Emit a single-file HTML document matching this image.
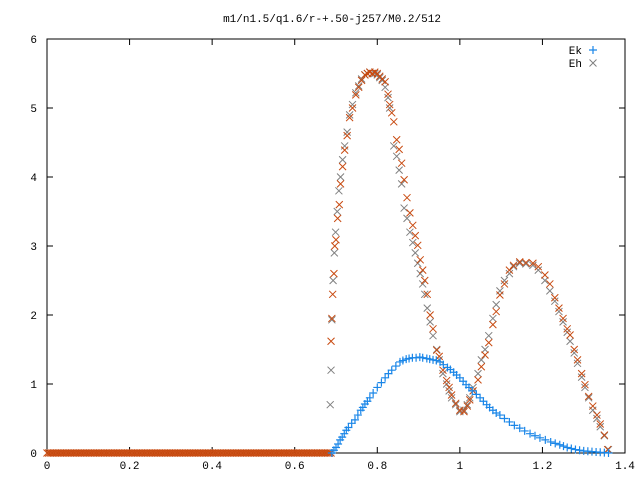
<!DOCTYPE html>
<html><head><meta charset="utf-8"><style>
html,body{margin:0;padding:0;background:#fff;width:640px;height:480px;overflow:hidden}
svg text{font-family:"Liberation Mono","DejaVu Sans Mono",monospace;font-size:11px;fill:#000}
</style></head><body>
<svg id="chart" width="640" height="480" xmlns="http://www.w3.org/2000/svg">
<rect width="640" height="480" fill="#fff"/>
<text x="332" y="22" text-anchor="middle">m1/n1.5/q1.6/r-+.50-j257/M0.2/512</text>
<g id="axes"></g><g id="marks"></g>
<g>
<text x="582" y="54" text-anchor="end">Ek</text>
<text x="582" y="67" text-anchor="end">Eh</text>
</g>
</svg>
<script>
const xTicks=[0,0.2,0.4,0.6,0.8,1,1.2,1.4];
const xTickLabels=["0","0.2","0.4","0.6","0.8","1","1.2","1.4"];
const yTicks=[0,1,2,3,4,5,6];
const yTickLabels=["0","1","2","3","4","5","6"];
const ekX=[0.69,0.695,0.70,0.705,0.71,0.715,0.72,0.725,0.73,0.738,0.746,0.753,0.76,0.765,0.77,0.776,0.782,0.79,0.80,0.81,0.819,0.827,0.835,0.845,0.855,0.862,0.87,0.877,0.885,0.894,0.903,0.91,0.92,0.927,0.935,0.943,0.952,0.96,0.97,0.977,0.985,0.992,1.0,1.008,1.015,1.022,1.03,1.04,1.049,1.057,1.065,1.072,1.08,1.088,1.097,1.108,1.12,1.132,1.145,1.157,1.17,1.182,1.194,1.207,1.22,1.231,1.242,1.251,1.26,1.27,1.28,1.29,1.30,1.31,1.32,1.33,1.34,1.35,1.36];
const ekY=[0.0,0.04,0.08,0.13,0.19,0.23,0.28,0.33,0.37,0.43,0.48,0.55,0.62,0.66,0.71,0.75,0.8,0.87,0.95,1.02,1.09,1.15,1.2,1.26,1.32,1.34,1.36,1.37,1.38,1.38,1.39,1.38,1.37,1.36,1.35,1.34,1.32,1.28,1.24,1.21,1.17,1.13,1.09,1.04,0.99,0.95,0.9,0.85,0.8,0.75,0.7,0.66,0.62,0.58,0.55,0.5,0.45,0.4,0.36,0.32,0.28,0.25,0.22,0.19,0.16,0.14,0.12,0.1,0.08,0.065,0.05,0.04,0.03,0.025,0.02,0.015,0.01,0.005,0.0];
const ehX=[0.686,0.688,0.690,0.693,0.696,0.699,0.703,0.707,0.711,0.716,0.721,0.727,0.733,0.740,0.748,0.755,0.762,0.770,0.776,0.782,0.788,0.794,0.800,0.806,0.812,0.819,0.826,0.830,0.840,0.847,0.853,0.859,0.865,0.872,0.879,0.886,0.892,0.898,0.904,0.910,0.915,0.921,0.928,0.935,0.944,0.950,0.959,0.968,0.974,0.980,0.990,1.000,1.010,1.018,1.024,1.032,1.044,1.052,1.061,1.070,1.080,1.088,1.097,1.108,1.120,1.130,1.145,1.160,1.177,1.190,1.206,1.218,1.230,1.240,1.250,1.260,1.267,1.277,1.285,1.295,1.303,1.312,1.322,1.332,1.340,1.350,1.360];
const ehY=[0.7,1.2,1.93,2.5,2.9,3.2,3.5,3.8,4.0,4.25,4.45,4.65,4.9,5.05,5.22,5.32,5.42,5.48,5.5,5.52,5.5,5.5,5.48,5.44,5.4,5.3,5.15,5.0,4.45,4.3,4.1,3.9,3.55,3.4,3.2,3.05,2.9,2.75,2.6,2.45,2.3,2.1,1.9,1.7,1.5,1.35,1.15,1.0,0.9,0.8,0.7,0.6,0.62,0.7,0.8,0.95,1.15,1.35,1.5,1.7,1.95,2.15,2.35,2.5,2.6,2.7,2.75,2.74,2.72,2.65,2.5,2.35,2.2,2.05,1.9,1.75,1.62,1.45,1.3,1.1,0.95,0.8,0.62,0.5,0.38,0.25,0.05];
const e3X=[0.688,0.690,0.692,0.695,0.697,0.700,0.704,0.708,0.711,0.716,0.721,0.727,0.733,0.740,0.748,0.755,0.762,0.770,0.776,0.782,0.788,0.794,0.800,0.806,0.812,0.819,0.826,0.830,0.835,0.840,0.847,0.853,0.859,0.865,0.872,0.879,0.886,0.892,0.898,0.904,0.910,0.915,0.921,0.928,0.935,0.944,0.950,0.959,0.968,0.974,0.980,0.990,1.000,1.010,1.018,1.024,1.032,1.044,1.052,1.061,1.070,1.080,1.088,1.097,1.108,1.120,1.130,1.145,1.160,1.177,1.190,1.206,1.218,1.230,1.240,1.250,1.260,1.267,1.277,1.285,1.295,1.303,1.312,1.322,1.332,1.340,1.350,1.358];
const e3Y=[1.62,1.95,2.3,2.6,3.0,3.09,3.4,3.6,3.9,4.15,4.39,4.6,4.86,5.0,5.19,5.3,5.4,5.48,5.5,5.52,5.5,5.52,5.5,5.46,5.42,5.38,5.2,5.05,4.93,4.8,4.54,4.4,4.2,3.96,3.7,3.48,3.3,3.15,3.01,2.8,2.65,2.5,2.3,2.0,1.8,1.49,1.4,1.2,1.05,0.95,0.84,0.72,0.62,0.6,0.68,0.77,0.9,1.06,1.25,1.42,1.6,1.86,2.05,2.29,2.45,2.65,2.72,2.77,2.76,2.75,2.7,2.58,2.45,2.25,2.1,1.95,1.8,1.71,1.5,1.35,1.15,0.99,0.82,0.68,0.55,0.42,0.26,0.05];
const zeroStart=0, zeroEnd=0.69, zeroValue=0;

const L=47,R=625,T=39,B=453,xMax=1.4,yMax=6;
const sx=v=>L+v/xMax*(R-L);
const sy=v=>B-v/yMax*(B-T);
const NS="http://www.w3.org/2000/svg";
const axes=document.getElementById('axes'),marks=document.getElementById('marks');
function mk(tag,attrs,parent){const e=document.createElementNS(NS,tag);for(const k in attrs)e.setAttribute(k,attrs[k]);parent.appendChild(e);return e;}
const border=mk('rect',{x:L,y:T,width:R-L,height:B-T,fill:'none',stroke:'#000','stroke-width':1},axes);


xTicks.forEach((t,i)=>{const x=sx(t);
 mk('line',{x1:x,y1:B,x2:x,y2:B-6,stroke:'#000'},axes);
 mk('line',{x1:x,y1:T,x2:x,y2:T+6,stroke:'#000'},axes);
 const tx=mk('text',{x:x,y:B+16,'text-anchor':'middle'},axes);tx.textContent=xTickLabels[i];
 
 });
yTicks.forEach((t,i)=>{const y=sy(t);
 mk('line',{x1:L,y1:y,x2:L+6,y2:y,stroke:'#000'},axes);
 mk('line',{x1:R,y1:y,x2:R-6,y2:y,stroke:'#000'},axes);
 const tx=mk('text',{x:L-10,y:y+4,'text-anchor':'end'},axes);tx.textContent=yTickLabels[i];
 
 });
function cross(x,y,c,g){mk('path',{d:`M${x-3.5},${y-3.5}L${x+3.5},${y+3.5}M${x-3.5},${y+3.5}L${x+3.5},${y-3.5}`,stroke:c,'stroke-width':1,fill:'none'},g);}
function plus(x,y,c,g){mk('path',{d:`M${x-4},${y}L${x+4},${y}M${x},${y-4}L${x},${y+4}`,stroke:c,'stroke-width':1.2,fill:'none'},g);}
const BLUE='#1a86e8',ORANGE='#c84a10',GRAY='#808080';
const gZero=mk('g',{},marks);


for(let x=zeroStart;x<=zeroEnd;x+=0.004){cross(sx(x),sy(zeroValue),ORANGE,gZero);}
const gEh=mk('g',{},marks);


ehX.forEach((x,i)=>cross(sx(x),sy(ehY[i]),GRAY,gEh));
const g3=mk('g',{},marks);


e3X.forEach((x,i)=>cross(sx(x),sy(e3Y[i]),ORANGE,g3));
const gEk=mk('g',{},marks);


ekX.forEach((x,i)=>plus(sx(x),sy(ekY[i]),BLUE,gEk));
const lg=mk('g',{},marks);


plus(593,50,BLUE,lg);cross(593,63,GRAY,lg);
</script>
</body></html>
